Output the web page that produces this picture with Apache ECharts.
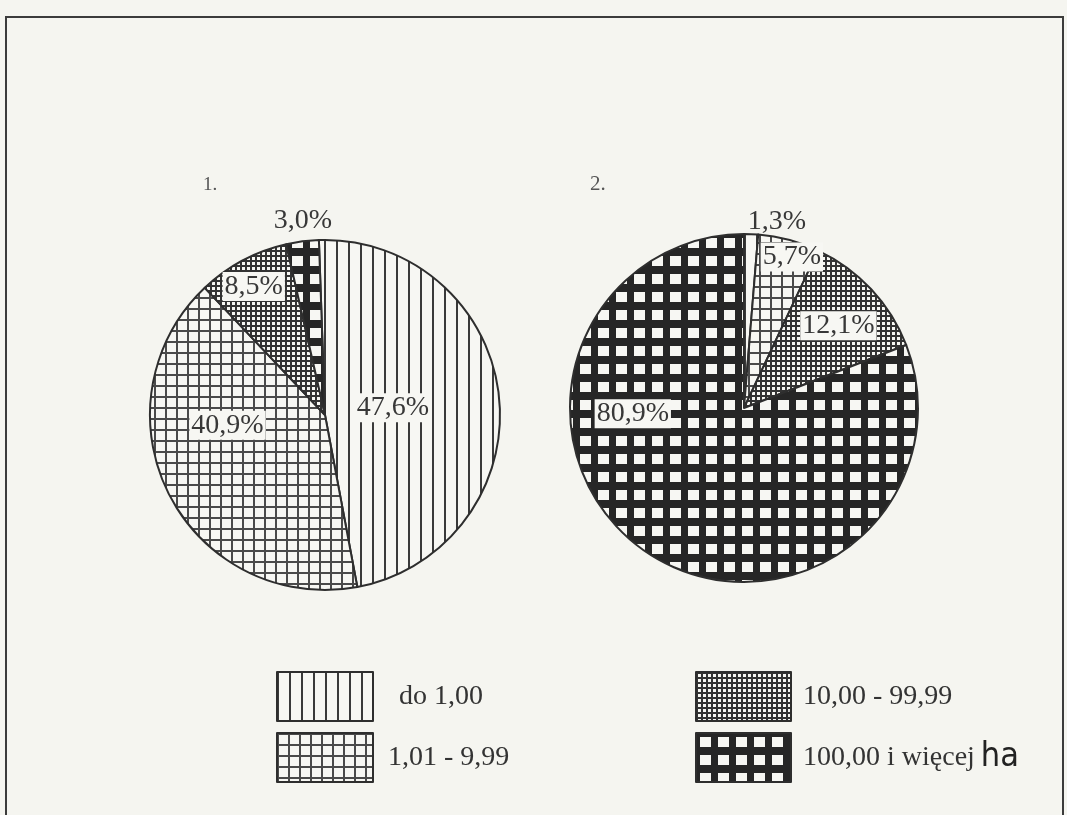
<!DOCTYPE html>
<html>
<head>
<meta charset="utf-8">
<script src="https://cdn.jsdelivr.net/npm/echarts@6/dist/echarts.min.js"></script>
<style>
html,body{margin:0;padding:0;background:#f5f5f0;}
#chart{width:1067px;height:815px;}
</style>
</head>
<body>
<div id="chart"></div>
<script>
// ---- data ----
const categories = ['do 1,00', '1,01 - 9,99', '10,00 - 99,99', '100,00 i więcej'];
const pie1Values = [47.6, 40.9, 8.5, 3.0];
const pie2Values = [1.3, 5.7, 12.1, 80.9];
const pieTitles = ['1.', '2.'];
const unitLabel = 'ha';

// ---- styling helpers ----
const PAPER = '#f7f7f3';
const INK = '#2e2e2e';

function tile(w, h, draw) {
  const c = document.createElement('canvas');
  c.width = w; c.height = h;
  const g = c.getContext('2d');
  draw(g, w, h);
  return c;
}
const patterns = [
  tile(12, 12, (g, w, h) => { g.fillStyle = PAPER; g.fillRect(0, 0, w, h); g.fillStyle = '#3a3a3a'; g.fillRect(0, 0, 2, h); }),
  tile(11, 11, (g, w, h) => { g.fillStyle = PAPER; g.fillRect(0, 0, w, h); g.fillStyle = '#4a4a4a'; g.fillRect(0, 0, 2, h); g.fillRect(0, 0, w, 2); }),
  tile(5, 5, (g, w, h) => { g.fillStyle = '#333'; g.fillRect(0, 0, w, h); g.fillStyle = PAPER; g.fillRect(2, 2, 3, 3); }),
  tile(18, 18, (g, w, h) => { g.fillStyle = '#262626'; g.fillRect(0, 0, w, h); g.fillStyle = PAPER; g.fillRect(4, 4, 11, 10); })
].map(c => ({ image: c, repeat: 'repeat' }));

// label placement: [angle clockwise from top (deg), radius fraction, boxed]
const labelPlace = [
  [[84, 0.39, true], [264, 0.56, true], [331, 0.84, true], [353.5, 1.115, false]],
  [[10, 1.09, false], [17.6, 0.91, true], [48.9, 0.72, true], [267, 0.64, true]]
];
const pieCenters = [[325, 415], [744, 408]];
const pieRadius = [175, 174];
const startAngles = [92, 90];

function fmt(v) { return v.toFixed(1).replace('.', ',') + '%'; }

function makeSeries(idx, values) {
  return {
    type: 'pie',
    center: pieCenters[idx],
    radius: pieRadius[idx],
    startAngle: startAngles[idx],
    clockwise: true,
    avoidLabelOverlap: false,
    silent: true,
    emphasis: { disabled: true },
    itemStyle: { borderColor: INK, borderWidth: 2 },
    label: {
      show: true,
      position: 'inside',
      fontFamily: 'Liberation Serif, Times New Roman, serif',
      fontSize: 28,
      color: '#383838'
    },
    labelLine: { show: false },
    labelLayout: function (p) {
      const pl = labelPlace[idx][p.dataIndex];
      const a = pl[0] * Math.PI / 180;
      const r = pieRadius[idx] * pl[1];
      return {
        x: pieCenters[idx][0] + r * Math.sin(a),
        y: pieCenters[idx][1] - r * Math.cos(a),
        align: 'center',
        verticalAlign: 'middle',
        hideOverlap: false
      };
    },
    data: values.map((v, i) => ({
      name: categories[i],
      value: v,
      itemStyle: { color: patterns[i] },
      label: {
        formatter: fmt(v),
        backgroundColor: labelPlace[idx][i][2] ? PAPER : 'transparent',
        padding: [1, 2, 0, 2]
      }
    }))
  };
}

const legendText = {
  fontFamily: 'Liberation Serif, Times New Roman, serif',
  fontSize: 28,
  color: '#333',
  rich: {
    t: { fontFamily: 'Liberation Serif, Times New Roman, serif', fontSize: 28, color: '#333' },
    h: { fontFamily: 'Liberation Sans Narrow, DejaVu Sans Condensed, sans-serif', fontSize: 34, color: '#222', padding: [0, 0, 0, 6] }
  }
};
function legendFormatter(name) {
  return name === categories[3] ? '{t|' + name + '}{h|' + unitLabel + '}' : name;
}

const chart = echarts.init(document.getElementById('chart'), null, { renderer: 'canvas' });
chart.setOption({
  backgroundColor: '#f5f5f0',
  animation: false,
  title: [
    { text: pieTitles[0], left: 198, top: 171, textStyle: { fontFamily: 'Liberation Serif, serif', fontSize: 19, fontWeight: 'normal', color: '#555' } },
    { text: pieTitles[1], left: 585, top: 169, textStyle: { fontFamily: 'Liberation Serif, serif', fontSize: 21, fontWeight: 'normal', color: '#555' } }
  ],
  graphic: [
    { type: 'rect', shape: { x: 6, y: 17, width: 1057, height: 840 }, style: { fill: 'none', stroke: '#3c3c3c', lineWidth: 2 }, silent: true }
  ],
  legend: [
    {
      left: 276, top: 671, orient: 'vertical', icon: 'rect', padding: 0,
      itemWidth: 96, itemHeight: 49, itemGap: 10, selectedMode: false,
      itemStyle: { borderColor: INK, borderWidth: 2 },
      textStyle: legendText,
      formatter: legendFormatter,
      data: [
        { name: categories[0], textStyle: { padding: [0, 0, 0, 21] } },
        { name: categories[1], textStyle: { padding: [0, 0, 0, 10] } }
      ]
    },
    {
      left: 695, top: 671, orient: 'vertical', icon: 'rect', padding: 0,
      itemWidth: 95, itemHeight: 49, itemGap: 10, selectedMode: false,
      itemStyle: { borderColor: INK, borderWidth: 2 },
      textStyle: legendText,
      formatter: legendFormatter,
      data: [
        { name: categories[2], textStyle: { padding: [0, 0, 0, 7] } },
        { name: categories[3], textStyle: { padding: [0, 0, 0, 7] } }
      ]
    }
  ],
  series: [makeSeries(0, pie1Values), makeSeries(1, pie2Values)]
});
</script>
</body>
</html>
